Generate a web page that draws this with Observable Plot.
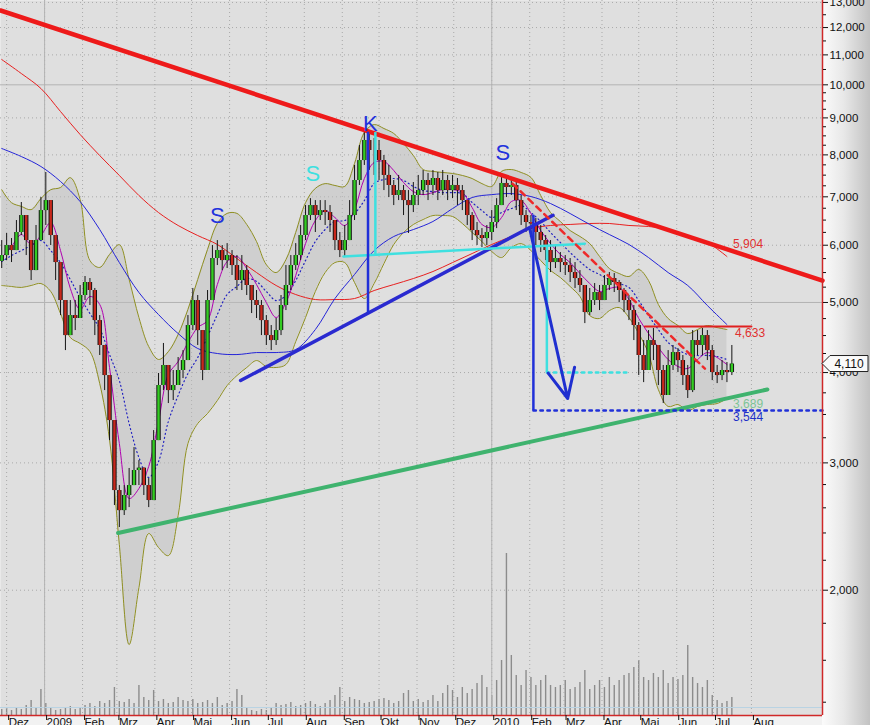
<!DOCTYPE html>
<html><head><meta charset="utf-8">
<script src="https://cdn.jsdelivr.net/npm/d3@7"></script>
<script src="https://cdn.jsdelivr.net/npm/@observablehq/plot@0.6"></script>
<style>
body{margin:0;background:#fff;}
#wrap{position:relative;width:870px;height:725px;overflow:hidden;background:#f2f2f2;font-family:"Liberation Sans",Arial,sans-serif;}
#axisbg{position:absolute;left:822px;top:0;width:48px;height:725px;background:linear-gradient(to right,#fbfbfb,#e8e8e8 45%,#c2c2c2);}
#wrap svg{position:absolute;left:0;top:0;}
</style></head><body><div id="wrap"><div id="axisbg"></div></div>
<script>
// ---------- data ----------
const firstCandleDate = "2008-11-27"; // candles every 4 calendar days
const firstOpen = 5700;
const closes = [5806,5994,5899,6248,6595,6090,5535,6090,6700,6917,
6188,5678,5031,4500,4796,4751,5112,5328,5194,4720,
4360,3962,3433,2747,2577,2704,2791,2928,2950,2791,
2661,3221,3838,4091,3777,3838,4026,4156,4646,5031,
4572,4026,5031,5751,5899,5714,5806,5624,5362,5535,
5278,5031,4952,4720,4500,4429,4572,4952,5278,5624,
5806,6188,6595,6808,6595,6700,6658,6491,6090,5899,
6090,6595,7373,7857,8375,8112,8112,7857,7493,7257,
7029,7141,6917,6808,7029,7141,7373,7257,7420,7141,
7373,7141,7257,7141,6917,6595,6287,6188,6129,6248,
6450,6808,7304,7211,7257,6917,6595,6450,6420,6248,
6090,5899,5678,5751,5678,5624,5500,5396,5278,4842,
5031,5161,5031,5278,5396,5328,5194,5031,4873,4646,
4223,4026,4429,4360,4026,3718,4091,4263,4156,3962,
3777,4429,4360,4500,4290,4000,3962,4026,4000,4110];
const highs = [6090,6228,6129,6491,6874,6389,5994,6389,6984,7564,
6808,6188,5535,5031,5031,5031,5278,5431,5396,5228,
4796,4360,3962,3379,2791,2791,2947,3150,3022,2947,
2854,3325,3988,4388,4091,4026,4196,4290,4796,5228,
5112,4572,5194,5994,6090,5994,6031,5899,5806,5806,
5624,5278,5194,5031,4796,4646,4751,5112,5624,5806,
6031,6389,6808,6960,6917,6917,6917,6808,6389,6248,
6389,6917,7735,8243,8591,8645,8429,8375,7985,7735,
7373,7493,7257,7141,7326,7493,7612,7540,7612,7564,
7612,7493,7493,7420,7257,6917,6658,6450,6326,6389,
6700,6960,7493,7445,7445,7373,7029,6700,6595,6533,
6389,6188,6090,5994,5862,5806,5751,5678,5535,5194,
5228,5311,5278,5448,5500,5483,5362,5228,5112,4952,
4690,4429,4572,4602,4360,4091,4290,4360,4318,4223,
4091,4572,4572,4602,4572,4360,4091,4156,4130,4360];
const lows = [5571,5714,5678,5899,6188,5806,5362,5624,6090,6389,
5994,5362,4796,4290,4572,4572,4796,5031,4952,4500,
4223,3777,3221,2619,2442,2537,2602,2836,2791,2704,
2602,2661,3221,3777,3624,3659,3838,3924,4156,4572,
4360,3899,4026,5031,5624,5535,5571,5448,5194,5194,
5112,4827,4751,4500,4360,4290,4360,4500,4873,5194,
5535,5714,6090,6491,6248,6491,6389,6248,5899,5769,
5769,6090,6491,7257,7735,7612,7493,7373,7141,6984,
6808,6917,6595,6228,6658,6808,7029,6917,7029,6917,
7029,6917,6960,6808,6700,6389,6090,5994,5955,5994,
6090,6326,6808,6984,7029,6700,6389,6248,6188,5994,
5862,5714,5500,5571,5500,5448,5328,5228,5161,4675,
4796,4952,4873,5031,5194,5161,4999,4842,4720,4429,
3962,3874,4091,4156,3838,3624,3718,4026,4000,3838,
3683,3753,4223,4223,4156,3899,3862,3899,3874,3962];
const volumes = [6,7,5,8,6,10,15,8,26,12,
7,5,6,8,9,6,8,10,12,9,
14,12,15,28,14,13,16,12,30,18,
15,25,14,16,12,13,18,15,14,16,
12,13,15,12,18,10,12,14,26,20,
8,5,4,6,5,7,12,10,11,13,
9,10,12,14,11,9,12,15,20,28,
14,18,16,15,12,13,14,16,17,15,
12,14,22,25,14,16,13,15,20,14,
22,30,25,18,28,22,26,32,40,28,
20,35,55,162,60,40,30,45,38,30,
35,40,30,28,30,35,26,28,33,45,
26,30,35,28,38,30,35,40,42,48,
55,38,35,42,38,45,32,38,36,40,
70,38,32,28,35,20,15,12,14,18];
const volumeAverage = 8;

// indicator series, one value every 2nd candle
const bandUpper = [7160,6870,6790,6720,6960,7160,7210,7440,6940,5714,
5590,5825,6010,5380,4765,4345,4170,4275,4515,4890,
5380,5920,6430,6640,6640,6410,6070,5640,5500,5730,
6250,6870,7190,7300,7257,7235,7785,8590,8810,8700,
8565,8295,7985,7635,7590,7564,7540,7493,7420,7300,
7235,7590,7635,7564,7445,7029,6658,6471,6287,6170,
6031,5790,5571,5483,5431,5553,5362,4968,4751,4646,
4529,4587,4646,4616,4587];
const bandLower = [5278,5261,5245,5278,5311,5178,4827,4472,4388,4277,
3862,3231,2313,1682,2017,2396,2291,2233,2537,3191,
3401,3511,3659,3838,3962,4065,4156,4078,4065,4104,
4415,4766,5178,5500,5678,5678,5328,5063,5311,5660,
6014,6248,6410,6512,6595,6595,6575,6430,6248,6071,
5881,5769,5955,6031,5899,5714,5535,5414,5261,5097,
4796,4751,4873,4920,4766,4529,4250,3789,3590,3613,
3544,3590,3613,3624,3683];
const fastAverage = [5769,5975,6208,6014,6188,6450,5899,5228,4889,5097,
4968,4065,3191,2678,2765,2966,3422,3975,4143,4401,
4616,4720,5294,5696,5788,5571,5294,4999,4766,4999,
5448,6031,6491,6700,6553,6389,6722,7420,7808,7833,
7612,7326,7118,7049,7095,7164,7164,7095,6765,6410,
6348,6553,6895,6917,6637,6287,6031,5825,5678,5483,
5311,5178,5228,5245,5047,4751,4529,4332,4169,4078,
4052,4169,4263,4196,4104];
const middleAverage = [5696,5806,5899,5994,6090,5899,5678,5379,5080,4827,
4602,4236,3899,3401,3051,2864,3013,3422,3718,3988,
4196,4486,4811,5128,5261,5396,5345,5178,5031,5112,
5362,5714,6071,6307,6471,6491,6637,6917,7303,7397,
7420,7373,7234,7141,7118,7095,7095,7072,6874,6700,
6553,6658,6743,6808,6658,6471,6248,6052,5862,5696,
5553,5466,5379,5311,5245,5031,4796,4587,4401,4304,
4236,4223,4223,4209,4169];
// long averages, one value every 4th candle
const average200 = [10839,10366,9883,9184,8536,7983,7493,7029,6658,6389,
6188,6014,5751,5500,5278,5128,5047,5047,5063,5194,
5294,5396,5518,5678,5843,6014,6169,6326,6389,6410,
6430,6430,6389,6369,6307,6169,6052,5788];
const average100 = [8164,7958,7709,7350,6895,6307,5678,5161,4811,4529,
4318,4250,4236,4263,4263,4304,4587,5063,5466,5899,
6169,6307,6471,6743,6984,7049,7072,7006,6852,6637,
6410,6208,6014,5769,5500,5278,4952,4660];

// drawn annotations
const resistDates = ["2008-11-26","2010-09-28"], resistValues = [12670,5360];
const supportDates = ["2009-03-02","2010-08-14"], supportValues = [2400,3790];
const upTrendDates = ["2009-06-10","2010-02-20"], upTrendValues = [3900,6600];
const blueVertDates = ["2009-09-22","2010-02-04"], blueVertTop = [8600,6600], blueVertBottom = [4830,3544];
const cyanVertDates = ["2009-09-28","2010-02-15"], cyanVertTop = [8590,5990], cyanVertBottom = [5790,4000];
const cyanLineDates = ["2009-09-02","2010-03-18"], cyanLineValues = [5790,6030];
const blueDottedDates = ["2010-02-04","2010-09-28"], blueDottedValue = 3544;
const cyanDottedDates = ["2010-02-15","2010-04-24"], cyanDottedValue = 4000;
const arrowDates = ["2010-02-01","2010-03-04"], arrowValues = [6330,3683];
const redDashDates = ["2010-01-18","2010-06-24"], redDashValues = [7300,4050];
const topLineDates = ["2010-05-06","2010-08-01"], topLineValue = 4633;
const blueLetters = ["S","K","S"], blueLetterDates = ["2009-05-22","2009-09-24","2010-01-10"], blueLetterValues = [6595,8840,8060];
const cyanLetters = ["S"], cyanLetterDates = ["2009-08-08"], cyanLetterValues = [7540];
const levelLabelDate = "2010-07-17";
const levelValues = [5904,4633,3689,3544];

// axes
const xDomain = ["2008-11-26","2010-09-28"];
const yDomain = [1342,13080];
const yMajorTicks = [2000,3000,4000,5000,6000,7000,8000,9000,10000,11000,12000,13000];
const yMinorTicks = [1400,1600,1800,2200,2400,2600,2800,3250,3500,3750,4250,4500,4750,5250,5500,5750,6250,6500,6750,7250,7500,7750,8250,8500,8750,9250,9500,9750,10500,11500,12500];
const monthTickDates = ["2008-12-01","2009-01-01","2009-02-01","2009-03-01","2009-04-01","2009-05-01","2009-06-01","2009-07-01","2009-08-01","2009-09-01","2009-10-01","2009-11-01","2009-12-01","2010-01-01","2010-02-01","2010-03-01","2010-04-01","2010-05-01","2010-06-01","2010-07-01","2010-08-01"];
const monthLabels = ["Dez","2009","Feb","Mrz","Apr","Mai","Jun","Jul","Aug","Sep","Okt","Nov","Dez","2010","Feb","Mrz","Apr","Mai","Jun","Jul","Aug"];
const yearDates = ["2009-01-01","2010-01-01"];
const solidLevels = [5000,10000];
const dottedLevels = [2000,3000,4000,6000,7000,8000,9000,11000,12000,13000];

// ---------- build ----------
const P = d3.utcParse("%Y-%m-%d");
const start = P(firstCandleDate);
const candleDates = closes.map((_, i) => d3.utcDay.offset(start, 4 * i));
const candles = closes.map((c, i) => {
  const o = i ? closes[i - 1] : firstOpen;
  return {date: candleDates[i], open: o, close: c, high: Math.max(highs[i], o, c), low: Math.min(lows[i], o, c), up: c >= o, vol: volumes[i]};
});
const bands = bandUpper.map((u, j) => ({date: candleDates[2 * j], upper: u, lower: bandLower[j], fast: fastAverage[j], mid: middleAverage[j]}));
const longs = average200.map((v, m) => ({date: candleDates[4 * m], a200: v, a100: average100[m]}));
const seg = (ds, vs) => ds.map((d, i) => ({date: P(d), v: Array.isArray(vs) ? vs[i] : vs}));
const xd = xDomain.map(P);
const labelByTime = new Map(monthTickDates.map((d, i) => [+P(d), monthLabels[i]]));

const common = {width: 870, height: 725, marginLeft: 0, marginRight: 48, marginTop: 0, marginBottom: 10};
const font = "Liberation Sans, Arial, sans-serif";

const volPlot = Plot.plot({
  ...common,
  style: {background: "transparent", fontFamily: font},
  x: {type: "utc", domain: xd, axis: null},
  y: {domain: [0, 162], range: [715, 553], axis: null},
  marks: [
    Plot.frame({fill: "#dfdfdf", stroke: null}),
    Plot.ruleX(candles, {x: "date", y1: 0, y2: "vol", stroke: "#8c8c8c", strokeWidth: 1.4}),
    Plot.ruleY([volumeAverage], {stroke: "#b9d3e3", strokeWidth: 1})
  ]
});

const curve = "catmull-rom";
const main = Plot.plot({
  ...common,
  style: {background: "transparent", fontFamily: font, fontSize: "11.5px", color: "#111"},
  x: {type: "utc", domain: xd},
  y: {type: "log", domain: yDomain},
  marks: [
    Plot.ruleY(dottedLevels, {stroke: "#a9a9a9", strokeDasharray: "1,3"}),
    Plot.ruleY(solidLevels, {stroke: "#b3b3b3"}),
    Plot.ruleX(monthTickDates.map(P), {stroke: "#a9a9a9", strokeDasharray: "1,3"}),
    Plot.ruleX(yearDates.map(P), {stroke: "#b3b3b3"}),
    // bands
    Plot.areaY(bands, {x: "date", y1: "lower", y2: "upper", fill: "#bdbdbd", fillOpacity: 0.45, curve}),
    Plot.lineY(bands, {x: "date", y: "upper", stroke: "#8f8f22", strokeWidth: 1, curve}),
    Plot.lineY(bands, {x: "date", y: "lower", stroke: "#8f8f22", strokeWidth: 1, curve}),
    // averages
    Plot.lineY(longs, {x: "date", y: "a200", stroke: "#e82020", strokeWidth: 1, curve}),
    Plot.lineY(longs, {x: "date", y: "a100", stroke: "#2424d8", strokeWidth: 1, curve}),
    Plot.lineY(bands, {x: "date", y: "mid", stroke: "#2020c0", strokeWidth: 1.2, strokeDasharray: "1,3", curve}),
    Plot.lineY(bands, {x: "date", y: "fast", stroke: "#b000b0", strokeWidth: 1, curve}),
    // candles
    Plot.ruleX(candles, {x: "date", y1: "low", y2: "high", stroke: "#151515", strokeWidth: 1}),
    Plot.ruleX(candles, {x: "date", y1: "open", y2: "close", stroke: "#151515", strokeWidth: 4.4}),
    Plot.ruleX(candles, {x: "date", y1: "open", y2: "close", stroke: d => d.up ? "#33cc22" : "#c8281c", strokeWidth: 2.4}),
    // trend lines
    Plot.line(seg(resistDates, resistValues), {x: "date", y: "v", stroke: "#ee1a1a", strokeWidth: 4.5}),
    Plot.line(seg(supportDates, supportValues), {x: "date", y: "v", stroke: "#3fb36e", strokeWidth: 4}),
    Plot.line(seg(upTrendDates, upTrendValues), {x: "date", y: "v", stroke: "#2a2ad0", strokeWidth: 3.5}),
    Plot.line(seg(cyanLineDates, cyanLineValues), {x: "date", y: "v", stroke: "#3ee0e0", strokeWidth: 2.5}),
    Plot.ruleX(blueVertDates.map((d, i) => ({date: P(d), a: blueVertTop[i], b: blueVertBottom[i]})), {x: "date", y1: "a", y2: "b", stroke: "#2030d8", strokeWidth: 2.5}),
    Plot.ruleX(cyanVertDates.map((d, i) => ({date: P(d), a: cyanVertTop[i], b: cyanVertBottom[i]})), {x: "date", y1: "a", y2: "b", stroke: "#3ee0e0", strokeWidth: 2.5}),
    Plot.line(seg(blueDottedDates, blueDottedValue), {x: "date", y: "v", stroke: "#2030d8", strokeWidth: 2.5, strokeDasharray: "2.5,4.5"}),
    Plot.line(seg(cyanDottedDates, cyanDottedValue), {x: "date", y: "v", stroke: "#3ee0e0", strokeWidth: 2.5, strokeDasharray: "2.5,4.5"}),
    Plot.line(seg(redDashDates, redDashValues), {x: "date", y: "v", stroke: "#ee2a2a", strokeWidth: 2.5, strokeDasharray: "6,5"}),
    Plot.line(seg(topLineDates, topLineValue), {x: "date", y: "v", stroke: "#e02020", strokeWidth: 2}),
    Plot.arrow([{x1: P(arrowDates[0]), y1: arrowValues[0], x2: P(arrowDates[1]), y2: arrowValues[1]}], {x1: "x1", y1: "y1", x2: "x2", y2: "y2", stroke: "#1f2fd0", strokeWidth: 3, headLength: 16, headAngle: 50}),
    // letters
    Plot.text(blueLetters, {x: (d, i) => P(blueLetterDates[i]), y: (d, i) => blueLetterValues[i], text: d => d, fill: "#2232dd", fontSize: 22}),
    Plot.text(cyanLetters, {x: (d, i) => P(cyanLetterDates[i]), y: (d, i) => cyanLetterValues[i], text: d => d, fill: "#3ee0e0", fontSize: 22}),
    // level labels
    Plot.text([levelValues[0]], {x: () => P(levelLabelDate), y: d => d, text: d => d3.format(",")(d), fill: "#e03030", textAnchor: "start", dy: -6, fontSize: 12}),
    Plot.text([levelValues[1]], {x: () => P(levelLabelDate), y: d => d, text: d => d3.format(",")(d), fill: "#e03030", textAnchor: "start", dx: 2, dy: 7, fontSize: 12}),
    Plot.text([levelValues[2]], {x: () => P(levelLabelDate), y: d => d, text: d => d3.format(",")(d), fill: "#7cc596", textAnchor: "start", dy: 6, fontSize: 12}),
    Plot.text([levelValues[3]], {x: () => P(levelLabelDate), y: d => d, text: d => d3.format(",")(d), fill: "#2030c8", textAnchor: "start", dy: 7, fontSize: 12}),
    // frame edges
    Plot.ruleY([yDomain[0]], {stroke: "#d02828", strokeWidth: 1.5}),
    Plot.ruleX([xd[1]], {stroke: "#d02828", strokeWidth: 1.5}),
    // axes
    Plot.axisY(yMajorTicks, {anchor: "right", tickSize: 5, tickPadding: 2, tickFormat: d3.format(","), fontSize: 11.5}),
    Plot.axisY(yMinorTicks, {anchor: "right", tickSize: 3, tickFormat: () => ""}),
    Plot.axisX(monthTickDates.map(P), {anchor: "bottom", tickSize: 5, tickPadding: -3, textAnchor: "start", dx: 2, tickFormat: d => labelByTime.get(+d), fontSize: 11.5})
  ]
});

const wrap = document.getElementById("wrap");
wrap.appendChild(volPlot);
wrap.appendChild(main);

// last price tag on the axis
const lastClose = closes[closes.length - 1];
const yTag = main.scale("y").apply(lastClose);
const xTag = main.scale("x").apply(xd[1]);
const g = d3.select(main).append("g");
g.append("path").attr("d", `M${xTag},${yTag} L${xTag + 8},${yTag - 8} H${xTag + 46} V${yTag + 8} H${xTag + 8} Z`).attr("fill", "#fafafa").attr("stroke", "#222");
g.append("text").attr("x", xTag + 27).attr("y", yTag + 4.5).attr("text-anchor", "middle").attr("font-size", 12).attr("fill", "#111").text(d3.format(",")(lastClose));
</script>
</body></html>
